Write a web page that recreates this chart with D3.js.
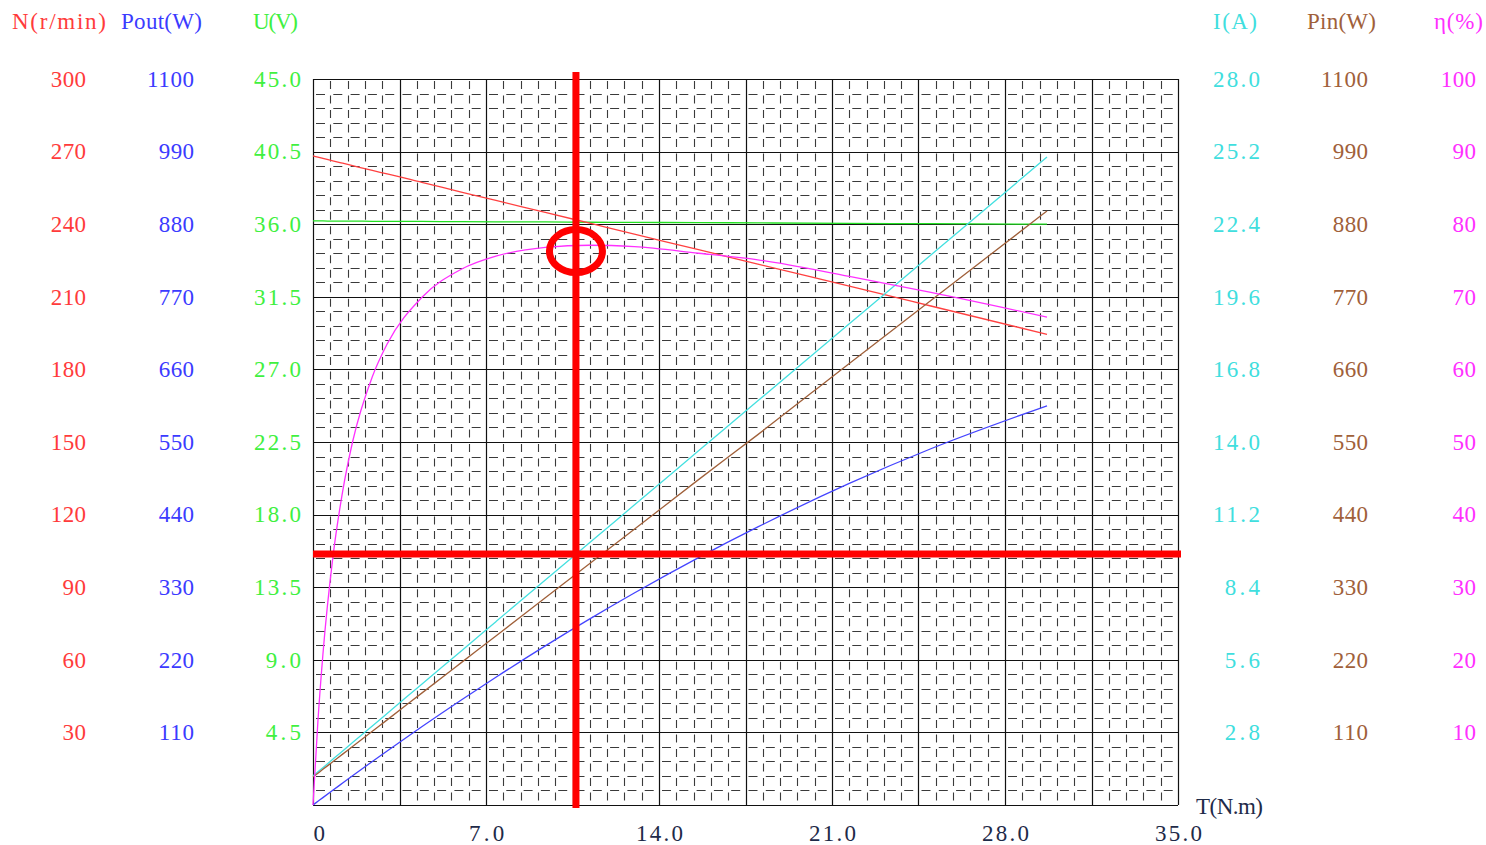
<!DOCTYPE html>
<html>
<head>
<meta charset="utf-8">
<script src="https://cdn.jsdelivr.net/npm/d3@7"></script>
<style>
  body { margin: 0; background: #fff; }
  text { font-family: "Liberation Serif", "DejaVu Serif", serif; font-size: 23px; }
</style>
</head>
<body>
<div id="chart"></div>
<script>
// torque points (N.m)
var torque = [0, 0.2, 0.4, 0.8, 1.2, 1.6, 2.4, 3.0, 4.4, 6.0, 7.4, 9.4, 11.2, 13.0, 15.6, 18.0, 21.7, 25.0, 29.7];
var speedN = [268.2, 267.7, 267.2, 266.2, 265.2, 264.2, 262.2, 260.8, 257.3, 253.3, 249.8, 244.9, 240.4, 235.9, 229.5, 223.5, 214.4, 206.2, 194.5];
var voltU  = [36.2, 36.2, 36.2, 36.19, 36.19, 36.19, 36.18, 36.18, 36.17, 36.16, 36.15, 36.14, 36.12, 36.11, 36.1, 36.08, 36.05, 36.03, 36.0];
var currI  = [1.12, 1.28, 1.44, 1.76, 2.08, 2.41, 3.05, 3.53, 4.66, 5.94, 7.07, 8.68, 10.12, 11.57, 13.66, 15.59, 18.56, 21.21, 24.99];
var powIn  = [42.4, 48.2, 54.0, 65.5, 77.1, 88.6, 111.7, 129.0, 169.5, 215.7, 256.1, 313.9, 365.9, 417.8, 493.0, 561.2, 669.1, 764.4, 900.0];
var powOut = [0, 5.6, 11.2, 22.3, 33.3, 44.3, 65.9, 81.9, 118.6, 159.2, 193.6, 241.1, 282.0, 321.2, 374.9, 421.3, 487.2, 539.8, 604.9];
var effic  = [0, 11.6, 20.7, 34.0, 43.2, 50.0, 59.0, 63.5, 69.9, 73.8, 75.6, 76.8, 77.1, 76.9, 76.0, 75.1, 72.8, 70.6, 67.2];

var xTicks = [0, 7, 14, 21, 28, 35];
var nTicks = [30, 60, 90, 120, 150, 180, 210, 240, 270, 300];
var pTicks = [110, 220, 330, 440, 550, 660, 770, 880, 990, 1100];
var uTicks = [4.5, 9, 13.5, 18, 22.5, 27, 31.5, 36, 40.5, 45];
var iTicks = [2.8, 5.6, 8.4, 11.2, 14, 16.8, 19.6, 22.4, 25.2, 28];
var eTicks = [10, 20, 30, 40, 50, 60, 70, 80, 90, 100];

// rated point marker
var markT = 10.64, markI = 9.68, markEff = 76.3;

var W = 1486, H = 845;
var pLeft = 313, pRight = 1178, pTop = 79, pBottom = 805;
var charW = 11.75;

var svg = d3.select('#chart').append('svg')
  .attr('width', W).attr('height', H);

var x = d3.scaleLinear().domain([0, 35]).range([pLeft, pRight]);
function yScale(max) { return d3.scaleLinear().domain([0, max]).range([pBottom, pTop]); }
var yN = yScale(300), yP = yScale(1100), yU = yScale(45), yI = yScale(28), yE = yScale(100);

// grid
var grid = svg.append('g');
var yG = d3.scaleLinear().domain([0, 50]).range([pBottom, pTop]);
var xG = d3.scaleLinear().domain([0, 50]).range([pLeft, pRight]);
var minor = d3.range(51).filter(function(d) { return d % 5 != 0; });
var major = d3.range(0, 51, 5);

grid.selectAll('.hmin').data(minor).enter().append('line')
  .attr('x1', pLeft).attr('x2', pRight)
  .attr('y1', function(d) { return Math.round(yG(d)) + 0.5; })
  .attr('y2', function(d) { return Math.round(yG(d)) + 0.5; })
  .attr('stroke', '#3a3a3a').attr('stroke-width', 1.1)
  .attr('stroke-dasharray', '9,8.3').attr('stroke-dashoffset', -3);
grid.selectAll('.vmin').data(minor).enter().append('line')
  .attr('y1', pTop).attr('y2', pBottom)
  .attr('x1', function(d) { return Math.round(xG(d)) + 0.5; })
  .attr('x2', function(d) { return Math.round(xG(d)) + 0.5; })
  .attr('stroke', '#3a3a3a').attr('stroke-width', 1.1)
  .attr('stroke-dasharray', '8,6.52').attr('stroke-dashoffset', -2);
grid.selectAll('.hmaj').data(major).enter().append('line')
  .attr('x1', pLeft).attr('x2', pRight)
  .attr('y1', function(d) { return Math.round(yG(d)) + 0.5; })
  .attr('y2', function(d) { return Math.round(yG(d)) + 0.5; })
  .attr('stroke', '#111').attr('stroke-width', 1.2);
grid.selectAll('.vmaj').data(major).enter().append('line')
  .attr('y1', pTop).attr('y2', pBottom)
  .attr('x1', function(d) { return Math.round(xG(d)) + 0.5; })
  .attr('x2', function(d) { return Math.round(xG(d)) + 0.5; })
  .attr('stroke', '#111').attr('stroke-width', 1.2);

// curves
function curve(vals, ys, color) {
  var line = d3.line()
    .x(function(d, i) { return x(torque[i]); })
    .y(function(d) { return ys(d); })
    .curve(d3.curveMonotoneX);
  svg.append('path').datum(vals)
    .attr('d', line)
    .attr('fill', 'none')
    .attr('stroke', color)
    .attr('stroke-width', 1.3);
}
curve(voltU, yU, '#22e022');
curve(speedN, yN, '#ff4040');
curve(currI, yI, '#44e0e0');
curve(powIn, yP, '#a0603a');
curve(powOut, yP, '#4444ff');
curve(effic, yE, '#ff30ff');

// marker
svg.append('line')
  .attr('x1', x(markT)).attr('x2', x(markT))
  .attr('y1', pTop - 7).attr('y2', pBottom + 3)
  .attr('stroke', '#ff0000').attr('stroke-width', 7);
svg.append('line')
  .attr('x1', pLeft).attr('x2', pRight + 3)
  .attr('y1', yI(markI)).attr('y2', yI(markI))
  .attr('stroke', '#ff0000').attr('stroke-width', 7);
svg.append('ellipse')
  .attr('cx', x(markT)).attr('cy', yE(markEff))
  .attr('rx', 26.5).attr('ry', 21.5)
  .attr('fill', 'none').attr('stroke', '#ff0000').attr('stroke-width', 7);

// axes
function widen(sel) {
  sel.each(function() {
    var t = d3.select(this);
    t.attr('textLength', t.text().length * charW).attr('lengthAdjust', 'spacing');
  });
}
function sideAxis(pos, scale, ticks, fmt, color) {
  var g = svg.append('g')
    .attr('transform', 'translate(' + pos + ',0)')
    .call(d3.axisLeft(scale).tickValues(ticks).tickSize(0).tickPadding(0).tickFormat(fmt));
  g.select('.domain').remove();
  g.selectAll('text')
    .attr('fill', color)
    .style('font-family', '"Liberation Serif", serif')
    .style('font-size', '23px')
    .call(widen);
}
sideAxis(86, yN, nTicks, d3.format('d'), '#ff3b3b');
sideAxis(194, yP, pTicks, d3.format('d'), '#3b3bff');
sideAxis(301, yU, uTicks, d3.format('.1f'), '#40f040');
sideAxis(1260, yI, iTicks, d3.format('.1f'), '#40dede');
sideAxis(1368, yP, pTicks, d3.format('d'), '#a0603a');
sideAxis(1476, yE, eTicks, d3.format('d'), '#ff30ff');

var xa = svg.append('g')
  .attr('transform', 'translate(0,' + (pBottom + 28) + ')')
  .call(d3.axisBottom(x).tickValues(xTicks).tickSize(0).tickPadding(0)
    .tickFormat(function(d) { return d == 0 ? '0' : d3.format('.1f')(d); }));
xa.select('.domain').remove();
xa.selectAll('text')
  .attr('fill', '#1e2a48')
  .attr('dy', '0.35em')
  .style('font-family', '"Liberation Serif", serif')
  .style('font-size', '23px')
  .attr('text-anchor', function(d) { return d == 0 ? 'start' : 'middle'; })
  .call(widen);

// headers
var heads = [
  {t: 'N(r/min)', x: 12, w: 94, c: '#ff3b3b'},
  {t: 'Pout(W)', x: 121, w: 81, c: '#3b3bff'},
  {t: 'U(V)', x: 253, w: 45, c: '#40f040'},
  {t: 'I(A)', x: 1213, w: 44, c: '#40dede'},
  {t: 'Pin(W)', x: 1307, w: 69, c: '#a0603a'},
  {t: 'η(%)', x: 1434, w: 49, c: '#ff30ff'}
];
svg.selectAll('.head').data(heads).enter().append('text')
  .attr('x', function(d) { return d.x; })
  .attr('y', 21).attr('dy', '0.35em')
  .attr('fill', function(d) { return d.c; })
  .attr('textLength', function(d) { return d.w; })
  .attr('lengthAdjust', 'spacing')
  .text(function(d) { return d.t; });
svg.append('text')
  .attr('x', 1196).attr('y', 806).attr('dy', '0.35em')
  .attr('fill', '#1e2a48')
  .attr('textLength', 67).attr('lengthAdjust', 'spacing')
  .text('T(N.m)');
</script>
</body>
</html>
